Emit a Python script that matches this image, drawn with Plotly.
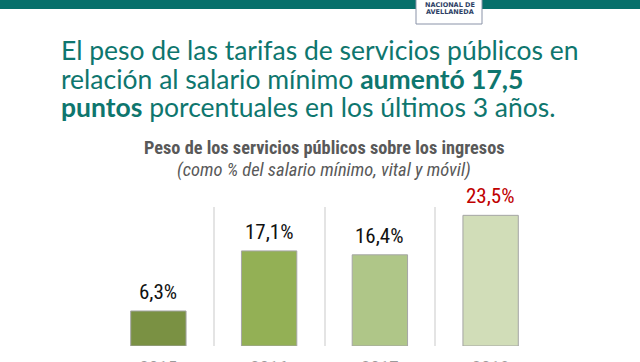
import plotly.graph_objects as go

years = ["2015", "2016", "2017", "2018"]
values = [6.3, 17.1, 16.4, 23.5]
labels = ["6,3%", "17,1%", "16,4%", "23,5%"]
bar_colors = ["#7a9143", "#93b055", "#afc688", "#d1ddb8"]
label_colors = ["#111111", "#111111", "#111111", "#c00000"]

TEAL = "#0e766e"
narrow = "Liberation Sans Narrow, Roboto Condensed, Roboto, sans-serif"

PL, PR, PT, PB = 103, 546, 207, 346
PW, PH = PR - PL, PB - PT


def px_x(x):
    return (x - PL) / PW


def px_y(y):
    return (PB - y) / PH


pos = list(range(len(years)))
bounds = [p - 0.5 for p in pos]

fig = go.Figure()
fig.add_trace(go.Bar(
    x=pos, y=values,
    marker=dict(color=bar_colors, line=dict(color="#a5a5a5", width=1)),
    width=0.5, hoverinfo="skip",
))

for p, v, t, c in zip(pos, values, labels, label_colors):
    fig.add_annotation(x=p, y=v, xref="x", yref="y", text=t, showarrow=False,
                       xanchor="center", yanchor="bottom", yshift=5,
                       font=dict(family=narrow, size=21, color=c))

fig.update_layout(
    width=640, height=362,
    margin=dict(l=PL, r=640 - PR, t=PT, b=362 - PB, autoexpand=False),
    paper_bgcolor="white", plot_bgcolor="white",
    showlegend=False,
    xaxis=dict(range=[-0.5, 3.5], tickvals=pos, ticktext=years,
               showgrid=False, showline=False, ticks="", zeroline=False,
               tickangle=0, automargin=False,
               minor=dict(tickvals=bounds, showgrid=True, gridcolor="#e4e4e4",
                          gridwidth=1.5, ticks=""),
               tickfont=dict(family=narrow, size=19, color="#9a9a9a"),
               ticklabelstandoff=8),
    yaxis=dict(range=[0, 25], visible=False, showgrid=False, zeroline=False),
)

# teal band at top
fig.add_shape(type="rect", xref="paper", yref="paper",
              x0=px_x(-5), x1=px_x(645), y0=px_y(9), y1=px_y(-5),
              fillcolor="#07706b", line=dict(width=0), layer="above")
# logo box
fig.add_shape(type="rect", xref="paper", yref="paper",
              x0=px_x(416), x1=px_x(482), y0=px_y(24), y1=px_y(-3),
              fillcolor="white", line=dict(color="#8a93a8", width=1), layer="above")

for txt, yy in [("UNIVERSIDAD", -2.5), ("NACIONAL DE", 5), ("AVELLANEDA", 12)]:
    fig.add_annotation(xref="paper", yref="paper", x=px_x(450), y=px_y(yy),
                       text="<b>" + txt + "</b>", showarrow=False,
                       xanchor="center", yanchor="middle",
                       font=dict(family="DejaVu Sans", size=6.5, color="#2d3f66"))

title_lines = [
    "El peso de las tarifas de servicios públicos en",
    "relación al salario mínimo <b>aumentó 17,5</b>",
    "<b>puntos</b> porcentuales en los últimos 3 años.",
]
for i, line in enumerate(title_lines):
    fig.add_annotation(xref="paper", yref="paper", x=px_x(59), y=px_y(50 + 28.5 * i),
                       xanchor="left", yanchor="middle", text=line, showarrow=False,
                       font=dict(family="Lato, sans-serif", size=26.5, color=TEAL))

fig.add_annotation(xref="paper", yref="paper", x=px_x(324), y=px_y(147),
                   text="<b>Peso de los servicios públicos sobre los ingresos</b>", showarrow=False,
                   xanchor="center", yanchor="middle",
                   font=dict(family=narrow, size=18.3, color="#595959"))
fig.add_annotation(xref="paper", yref="paper", x=px_x(324), y=px_y(170),
                   text="<i>(como % del salario mínimo, vital y móvil)</i>", showarrow=False,
                   xanchor="center", yanchor="middle",
                   font=dict(family=narrow, size=18.5, color="#595959"))

fig.write_html("out.html", config={"displayModeBar": False},
               post_script="document.body.style.margin='0';document.body.style.padding='0';")
